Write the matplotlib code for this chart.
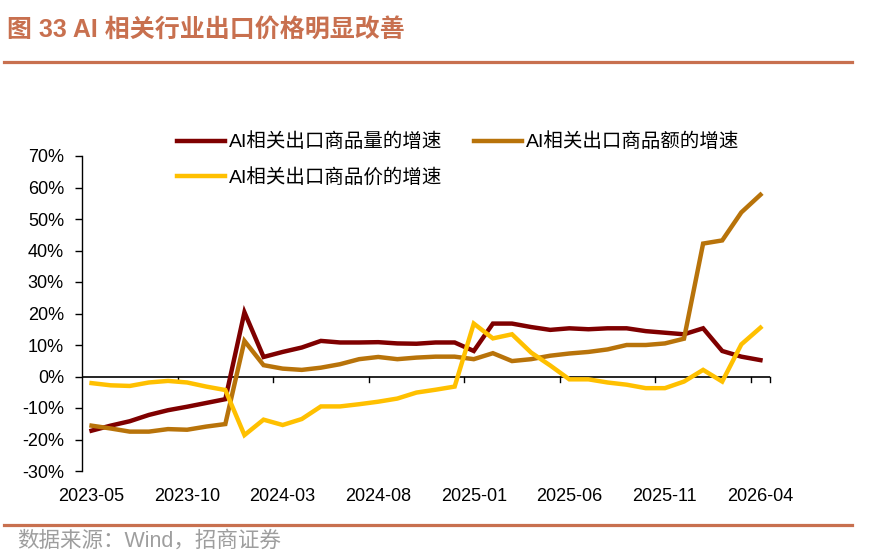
import matplotlib
matplotlib.use("Agg")
import matplotlib.pyplot as plt
from matplotlib.lines import Line2D

plt.rcParams['font.family'] = ['Liberation Sans', 'Noto Sans CJK SC', 'DejaVu Sans']

months = ["2023-05", "2023-06", "2023-07", "2023-08", "2023-09", "2023-10", "2023-11", "2023-12",
          "2024-01", "2024-02", "2024-03", "2024-04", "2024-05", "2024-06", "2024-07", "2024-08",
          "2024-09", "2024-10", "2024-11", "2024-12", "2025-01", "2025-02", "2025-03", "2025-04",
          "2025-05", "2025-06", "2025-07", "2025-08", "2025-09", "2025-10", "2025-11", "2025-12",
          "2026-01", "2026-02", "2026-03", "2026-04"]

volume = [-17.2, -15.6, -14.2, -12.2, -10.7, -9.6, -8.4, -7.2, 20.4, 6.2, 7.8, 9.2,
          11.3, 10.8, 10.8, 10.9, 10.5, 10.4, 10.8, 10.8, 8.1, 16.8, 16.8, 15.7,
          14.8, 15.3, 15.0, 15.3, 15.3, 14.4, 13.9, 13.4, 15.3, 8.1, 6.3, 5.2]

value = [-15.6, -16.5, -17.5, -17.5, -16.7, -16.9, -15.9, -15.1, 11.3, 3.6, 2.5, 2.1,
         2.8, 3.9, 5.5, 6.2, 5.5, 6.0, 6.3, 6.3, 5.5, 7.4, 4.9, 5.5,
         6.6, 7.3, 7.8, 8.6, 10.0, 10.0, 10.5, 12.0, 42.2, 43.2, 52.1, 57.7]

price = [-2.1, -2.8, -3.0, -1.9, -1.4, -1.9, -3.2, -4.3, -18.6, -13.7, -15.4, -13.5,
         -9.5, -9.5, -8.8, -8.0, -7.0, -5.1, -4.2, -3.2, 16.8, 12.1, 13.4, 7.6,
         3.5, -0.9, -0.9, -1.9, -2.6, -3.7, -3.7, -1.6, 2.1, -1.6, 10.2, 15.5]

labels = ["AI相关出口商品量的增速", "AI相关出口商品额的增速", "AI相关出口商品价的增速"]
colors = ["#7F0000", "#B8730A", "#FFC000"]
yticks = [-30, -20, -10, 0, 10, 20, 30, 40, 50, 60, 70]

fig = plt.figure(figsize=(8.7, 5.58), dpi=100)
ax = fig.add_axes([82/870, 1-471/558, (770-82)/870, (471-156)/558])

x = list(range(len(months)))
handles = []
for series, lab, col in zip([volume, value, price], labels, colors):
    h, = ax.plot(x, series, color=col, lw=3.2, label=lab, solid_joinstyle='miter', zorder=3)
    handles.append(h)

ax.set_xlim(-0.5, len(months) - 0.5)
ax.set_ylim(-30, 70)
ax.set_yticks(yticks)
ax.set_yticklabels([f"{v}%" for v in yticks], fontsize=13)
ax.tick_params(axis='y', direction='out', length=5, width=1, pad=8)

# x labels every 5 months at bottom
xt = list(range(0, len(months), 5))
ax.set_xticks(xt)
ax.set_xticklabels([months[i] for i in xt], fontsize=13)
ax.tick_params(axis='x', length=0, pad=12)

for s in ['top', 'right', 'bottom']:
    ax.spines[s].set_visible(False)
ax.spines['left'].set_linewidth(1)

# zero axis line with tick marks between categories
ax.axhline(0, color='black', lw=1.2, zorder=2)
for i in xt[1:]:
    ax.plot([i - 0.5, i - 0.5], [0, -1.6], color='black', lw=1, zorder=2, clip_on=False)
ax.plot([len(months) - 0.5, len(months) - 0.5], [0, -1.6], color='black', lw=1, zorder=2, clip_on=False)

leg = fig.legend([handles[0], handles[2], handles[1]],
                 [labels[0], labels[2], labels[1]],
                 ncol=2, loc='upper left', bbox_to_anchor=(167/870, 1-123/558),
                 frameon=False, fontsize=14, handlelength=2.5, handletextpad=0.2,
                 columnspacing=1.6, labelspacing=0.85, borderpad=0)

# title
fig.text(7/870, 1-30/558, "图 33 AI 相关行业出口价格明显改善", fontsize=18, fontweight='bold',
         color='#C8704F', va='center', ha='left')
fig.add_artist(Line2D([4/870, 852/870], [1-61.5/558, 1-61.5/558], color='#C8704F', lw=2.3))
fig.add_artist(Line2D([4/870, 852/870], [1-525/558, 1-525/558], color='#C8704F', lw=2.3))
fig.text(17/870, 1-541/558, "数据来源：Wind，招商证券", fontsize=15.5, color='#9E9E9E',
         va='center', ha='left')

fig.savefig("out.png", dpi=100)
